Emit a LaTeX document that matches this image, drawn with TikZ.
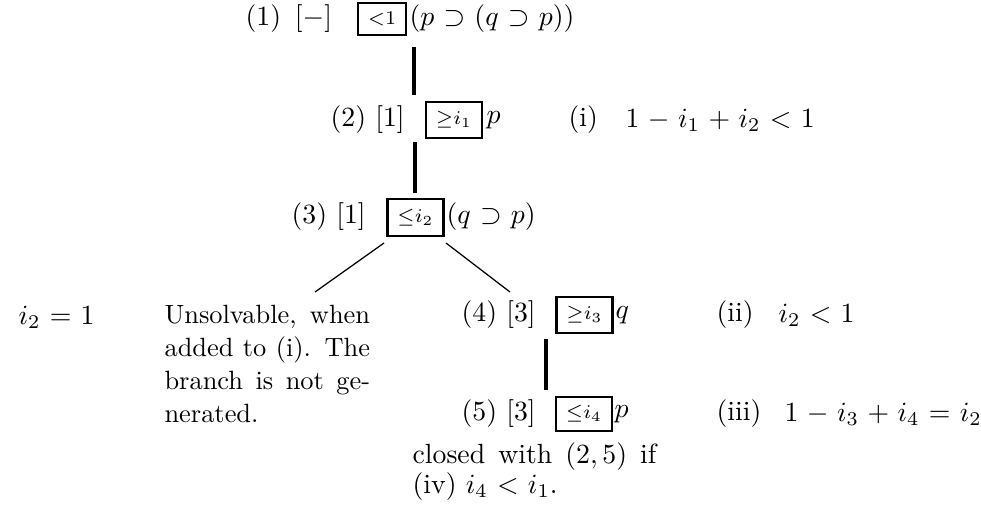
\documentclass[tikz,border=0pt]{standalone}
\usepackage{amsmath,amssymb}
\begin{document}
\begin{tikzpicture}[x=0.36pt,y=-0.36pt,
  lab/.style={anchor=west, inner sep=0pt, font=\fontsize{10}{12}\selectfont},
  sbox/.style={draw, line width=0.9pt, inner sep=0pt, minimum width=20pt, minimum height=12.8pt},
  vline/.style={line width=1.1pt},
  dline/.style={line width=0.45pt},
  para/.style={anchor=base west, inner sep=0pt}]
\medmuskip=5.5mu plus 2mu minus 4mu
\thickmuskip=6mu plus 5mu
\useasboundingbox (0,0) rectangle (981,523);

% row 1
\node[lab] (l1) at (245,19) {(1)\ \,[$-$]};
\node[sbox, minimum width=17.3pt, minimum height=11.5pt] (b1) at (382,19) {$\scriptstyle <1$};
\node[lab] (f1) at (409,19) {$(p\supset(q\supset p))$};

% row 2
\node[lab] (l2) at (330,120) {(2)~[1]};
\node[sbox] (b2) at (454,120) {$\scriptstyle \geq i_1$};
\node[lab] (f2) at (486,120) {$p$};
\node[lab] (c1) at (568,120) {(i)};
\node[lab] (e1) at (625,120) {$1-i_1+i_2<1$};

% row 3
\node[lab] (l3) at (291,217) {(3)~[1]};
\node[sbox, minimum height=13.3pt] (b3) at (415.5,217.5) {$\scriptstyle \leq i_2$};
\node[lab] (f3) at (446,217) {$(q\supset p)$};

% row 4
\node[lab] (eq) at (18,317) {$i_2=1$};
\node[para] (un) at (164,323) {\parbox[t]{74pt}{\fontsize{9.5}{11.9}\selectfont
  \makebox[74pt][s]{Unsolvable, when}\\
  \makebox[74pt][s]{added to (i). The}\\
  \makebox[74pt][s]{branch is not ge-}\\
  nerated.}};
\node[lab] (l4) at (461,315) {(4)~[3]};
\node[sbox] (b4) at (584.5,315) {$\scriptstyle \geq i_3$};
\node[lab] (f4) at (615,315) {$q$};
\node[lab] (c2) at (716,315) {(ii)};
\node[lab] (e2) at (778,315) {$i_2<1$};

% row 5
\node[lab] (l5) at (461,414) {(5)~[3]};
\node[sbox, minimum height=12.2pt] (b5) at (584,414) {$\scriptstyle \leq i_4$};
\node[lab] (f5) at (614,414) {$p$};
\node[lab] (c3) at (716,414) {(iii)};
\node[lab] (e3) at (784,414) {$1-i_3+i_4=i_2$};

\node[para] (cl) at (412,463) {\parbox[t]{87.8pt}{\fontsize{10}{10.8}\selectfont
  \makebox[87.8pt][s]{closed with $(2,5)$ if}\\
  (iv) $i_4<i_1$.}};

% connectors
\coordinate (a1) at (414,47);  \coordinate (a2) at (414,95);
\coordinate (a3) at (415,142); \coordinate (a4) at (415,193);
\coordinate (d0) at (384,243); \coordinate (d1) at (315,292);
\coordinate (d2) at (446,243); \coordinate (d3) at (510,292);
\coordinate (a5) at (546,339); \coordinate (a6) at (546,390);
\draw[vline] (a1) -- (a2);
\draw[vline] (a3) -- (a4);
\draw[dline] (d0) -- (d1);
\draw[dline] (d2) -- (d3);
\draw[vline] (a5) -- (a6);
\end{tikzpicture}
\end{document}
